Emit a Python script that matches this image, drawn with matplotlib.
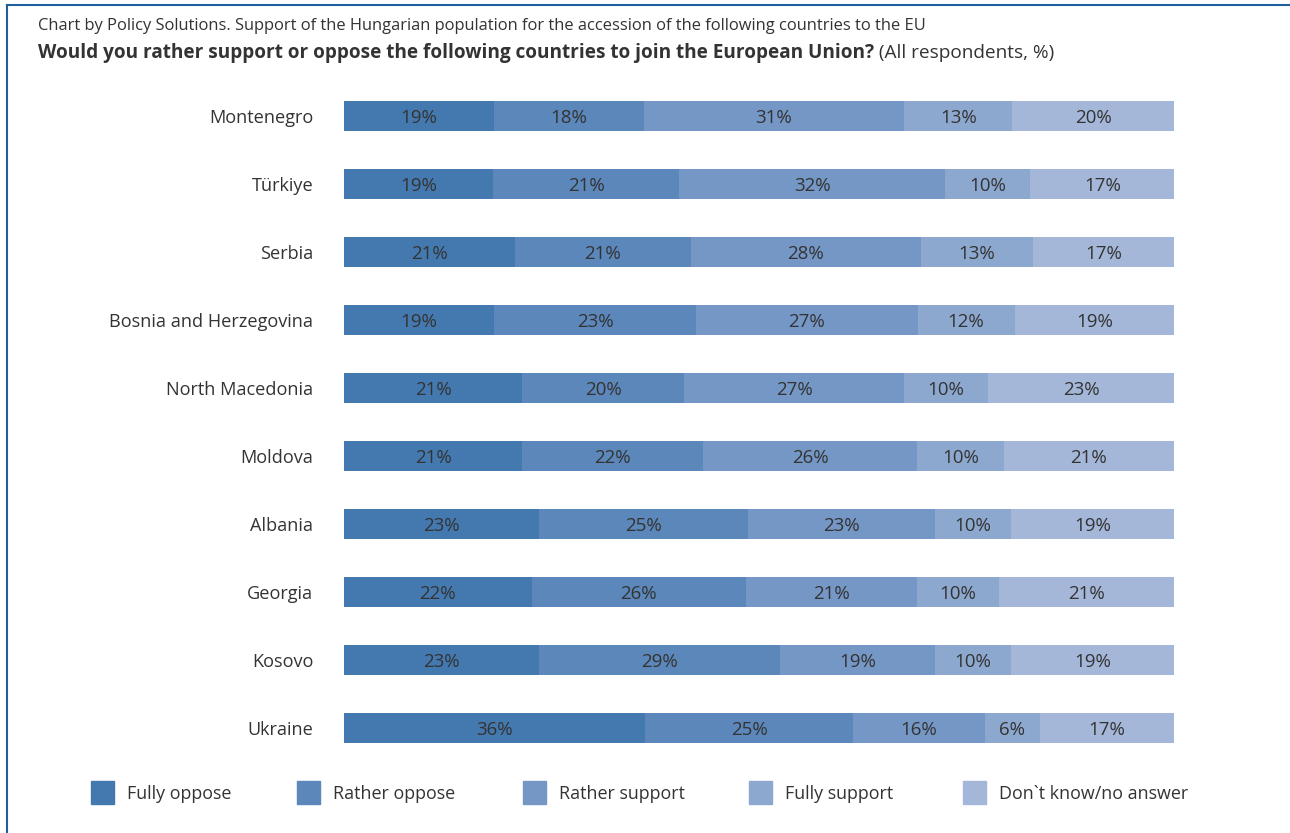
import matplotlib
matplotlib.use("Agg")
import matplotlib.pyplot as plt
from matplotlib.patches import Rectangle
from matplotlib.lines import Line2D
import numpy as np

plt.rcParams['font.family'] = ['Open Sans', 'DejaVu Sans']

countries = ["Montenegro", "Türkiye", "Serbia", "Bosnia and Herzegovina",
             "North Macedonia", "Moldova", "Albania", "Georgia", "Kosovo", "Ukraine"]
series = ["Fully oppose", "Rather oppose", "Rather support", "Fully support",
          "Don`t know/no answer"]

# printed (rounded) labels
fully_oppose   = [19, 19, 21, 19, 21, 21, 23, 22, 23, 36]
rather_oppose  = [18, 21, 21, 23, 20, 22, 25, 26, 29, 25]
rather_support = [31, 32, 28, 27, 27, 26, 23, 21, 19, 16]
fully_support  = [13, 10, 13, 12, 10, 10, 10, 10, 10, 6]
dont_know      = [20, 17, 17, 19, 23, 21, 19, 21, 19, 17]

# segment shares as drawn
share_fully_oppose   = [18.1, 18.0, 20.6, 18.1, 21.5, 21.5, 23.5, 22.6, 23.5, 36.3]
share_rather_oppose  = [18.0, 22.4, 21.2, 24.3, 19.5, 21.8, 25.2, 25.8, 29.0, 25.0]
share_rather_support = [31.4, 32.0, 27.7, 26.7, 26.5, 25.7, 22.5, 20.6, 18.7, 15.9]
share_fully_support  = [13.0, 10.3, 13.5, 11.7, 10.1, 10.5, 9.2, 9.9, 9.2, 6.6]
share_dont_know      = [19.5, 17.4, 17.0, 19.3, 22.4, 20.5, 19.6, 21.1, 19.6, 16.3]

colors = ["#4479B0", "#5B87BA", "#7597C6", "#8DA8CF", "#A4B7D9"]

title1 = "Chart by Policy Solutions. Support of the Hungarian population for the accession of the following countries to the EU"
title2_bold = "Would you rather support or oppose the following countries to join the European Union?"
title2_rest = " (All respondents, %)"

W, H = 1290, 833
fig = plt.figure(figsize=(W / 100, H / 100), dpi=100)

# axes geometry (pixels)
x0, x1 = 344, 1174
y_top, y_bot = 82, 762
ax = fig.add_axes([x0 / W, 1 - y_bot / H, (x1 - x0) / W, (y_bot - y_top) / H])

labels = np.array([fully_oppose, rather_oppose, rather_support, fully_support, dont_know])
shares = np.array([share_fully_oppose, share_rather_oppose, share_rather_support,
                   share_fully_support, share_dont_know], dtype=float)
ypos = np.arange(len(countries))
left = np.zeros(len(countries))
txtc = "#333333"
fs_bar = 13.5
for i in range(len(series)):
    ax.barh(ypos, shares[i], left=left, height=0.455, color=colors[i], edgecolor='none')
    for j in range(len(countries)):
        ax.annotate(f"{int(labels[i][j])}%", (left[j] + shares[i][j] / 2, ypos[j]),
                    xytext=(0, -0.357 * fs_bar), textcoords='offset points',
                    ha='center', va='baseline', fontsize=fs_bar, color=txtc)
    left += shares[i]

ax.set_xlim(0, 100)
ax.set_ylim(len(countries) - 0.5, -0.5)
ax.set_yticks(ypos)
ax.set_yticklabels(countries, fontsize=13.1, color=txtc)
ax.tick_params(axis='y', length=0, pad=22)
ax.set_xticks([])
for s in ax.spines.values():
    s.set_visible(False)

# titles
fig.text(38 / W, 1 - 30 / H, title1, fontsize=11.9, color=txtc, va='baseline', ha='left')
t = fig.text(38 / W, 1 - 58 / H, title2_bold, fontsize=13.7, color=txtc,
             va='baseline', ha='left', fontweight='bold')
fig.canvas.draw()
bb = t.get_window_extent()
fig.text(bb.x1 / W, 1 - 58 / H, title2_rest, fontsize=13.7, color=txtc, va='baseline', ha='left')

# legend
leg_x = [91, 297, 523, 749, 963]
for lx, c, lab in zip(leg_x, colors, series):
    fig.patches.append(Rectangle((lx / W, 1 - 804 / H), 23 / W, 23 / H,
                                 transform=fig.transFigure, color=c, zorder=3))
    fig.text((lx + 36) / W, 1 - 799 / H, lab, fontsize=12.9, color=txtc, va='baseline', ha='left')

# frame lines (top and left)
border = "#1F5F9E"
fig.add_artist(Line2D([7 / W, 1], [1 - 5 / H, 1 - 5 / H], transform=fig.transFigure,
                      color=border, lw=1.5))
fig.add_artist(Line2D([7 / W, 7 / W], [0, 1 - 5 / H], transform=fig.transFigure,
                      color=border, lw=1.5))

fig.savefig("out.png", dpi=100, facecolor='white')
